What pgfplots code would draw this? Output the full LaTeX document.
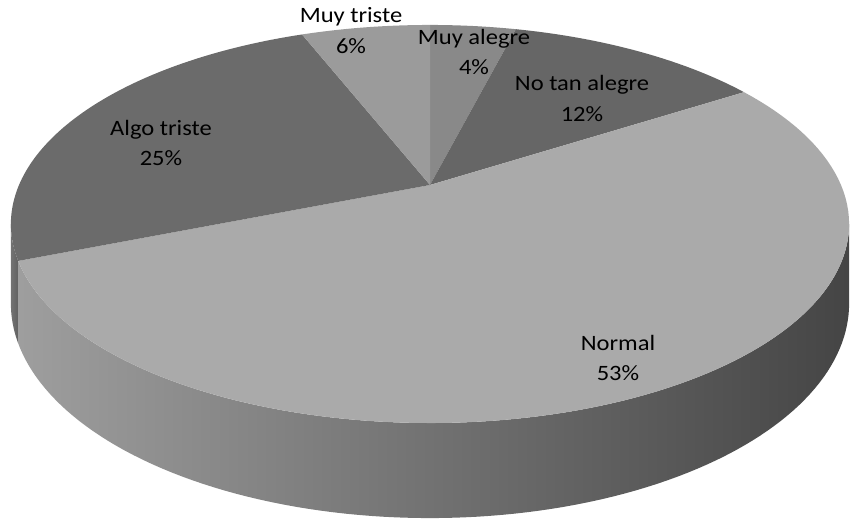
\documentclass[border=0pt]{standalone}
\usepackage{fontspec}
\setmainfont{Carlito}[FakeStretch=1.12]
\usepackage{pgfplots}
\usepackage{pgfplotstable}
\pgfplotsset{compat=1.18}

\definecolor{cMuyAlegre}{HTML}{898989}
\definecolor{cNoTan}{HTML}{666666}
\definecolor{cNormal}{HTML}{AAAAAA}
\definecolor{cAlgo}{HTML}{6B6B6B}
\definecolor{cMuyTriste}{HTML}{9B9B9B}

% survey shares, in percent, in the order the slices run clockwise from 12 o'clock
\pgfplotstableread{
label pct
{Muy alegre} 4
{No tan alegre} 12
Normal 53
{Algo triste} 25
{Muy triste} 6
}\pietable

\newcommand\getpct[2]{\pgfplotstablegetelem{#1}{pct}\of\pietable\edef#2{\pgfplotsretval}}
\getpct{0}\pA \getpct{1}\pB \getpct{2}\pC \getpct{3}\pD \getpct{4}\pE

% slice boundaries (degrees), clockwise from the top
\pgfmathsetmacro\tA{90}
\pgfmathsetmacro\tB{\tA-3.6*\pA}
\pgfmathsetmacro\tC{\tB-3.6*\pB}
\pgfmathsetmacro\tD{\tC-3.6*\pC}
\pgfmathsetmacro\tE{\tD-3.6*\pD}
\pgfmathsetmacro\tF{\tE-3.6*\pE}

% projected disc: centre, half axes, perspective factor, thickness
\def\cx{430}\def\cy{338}\def\ra{411}\def\rb{191.4}\def\kp{0.196}\def\dep{76.4}
% silhouette angles of the rim
\pgfmathsetmacro\tR{-asin(\kp)}
\pgfmathsetmacro\tL{-180+asin(\kp)}

% top face of one slice: arc from #1 to #2, then back to the centre
\newcommand\pieslice[3]{%
  \addplot[draw=none, fill=#3, samples at={0,1,...,100,150}, variable=\s]
    ({\cx + (\s<=100)*pu(#1+(#2-#1)*min(\s,100)/100)},
     {\cy + (\s<=100)*pv(#1+(#2-#1)*min(\s,100)/100)});
}
% visible rim of one slice: top arc out, bottom arc back
\newcommand\pieside[3]{%
  \addplot[draw=none, #3, samples at={0,1,...,100,100.001,101,102,...,200}, variable=\s]
    ({\cx + pu(#1+(#2-#1)*min(\s,200-\s)/100)},
     {\cy + pv(#1+(#2-#1)*min(\s,200-\s)/100) - (\s>100)*pd(#1+(#2-#1)*min(\s,200-\s)/100)});
}

\tikzset{lbl/.style={font=\fontsize{22}{31}\selectfont, align=center, text=black, inner sep=0pt}}

\begin{document}
\begin{tikzpicture}
\begin{axis}[
  width=855bp, height=523bp, scale only axis,
  xmin=0, xmax=855, ymin=0, ymax=523,
  hide axis,
  declare function={
    pu(\t)=\ra*cos(\t)/(1+\kp*sin(\t));
    pv(\t)=\rb*sin(\t)/(1+\kp*sin(\t));
    pd(\t)=\dep/(1+\kp*sin(\t));
  },
]
% rim
\pieside{\tR}{\tD}{left color=black!38, middle color=black!63, right color=black!73}
\pieside{\tD}{\tL}{left color=black!55, right color=black!62}
% top faces
\pieslice{\tA}{\tB}{cMuyAlegre}
\pieslice{\tB}{\tC}{cNoTan}
\pieslice{\tC}{\tD}{cNormal}
\pieslice{\tD}{\tE}{cAlgo}
\pieslice{\tE}{\tF}{cMuyTriste}
% data labels
\node[lbl] at (474,471) {Muy alegre\\\pA\%};
\node[lbl] at (582,424.5) {No tan alegre\\\pB\%};
\node[lbl] at (618,165) {Normal\\\pC\%};
\node[lbl] at (161,380) {Algo triste\\\pD\%};
\node[lbl] at (351,492.5) {Muy triste\\\pE\%};
\end{axis}
\pgfresetboundingbox
\path[use as bounding box] (current axis.south west) rectangle (current axis.north east);
\end{tikzpicture}
\end{document}
